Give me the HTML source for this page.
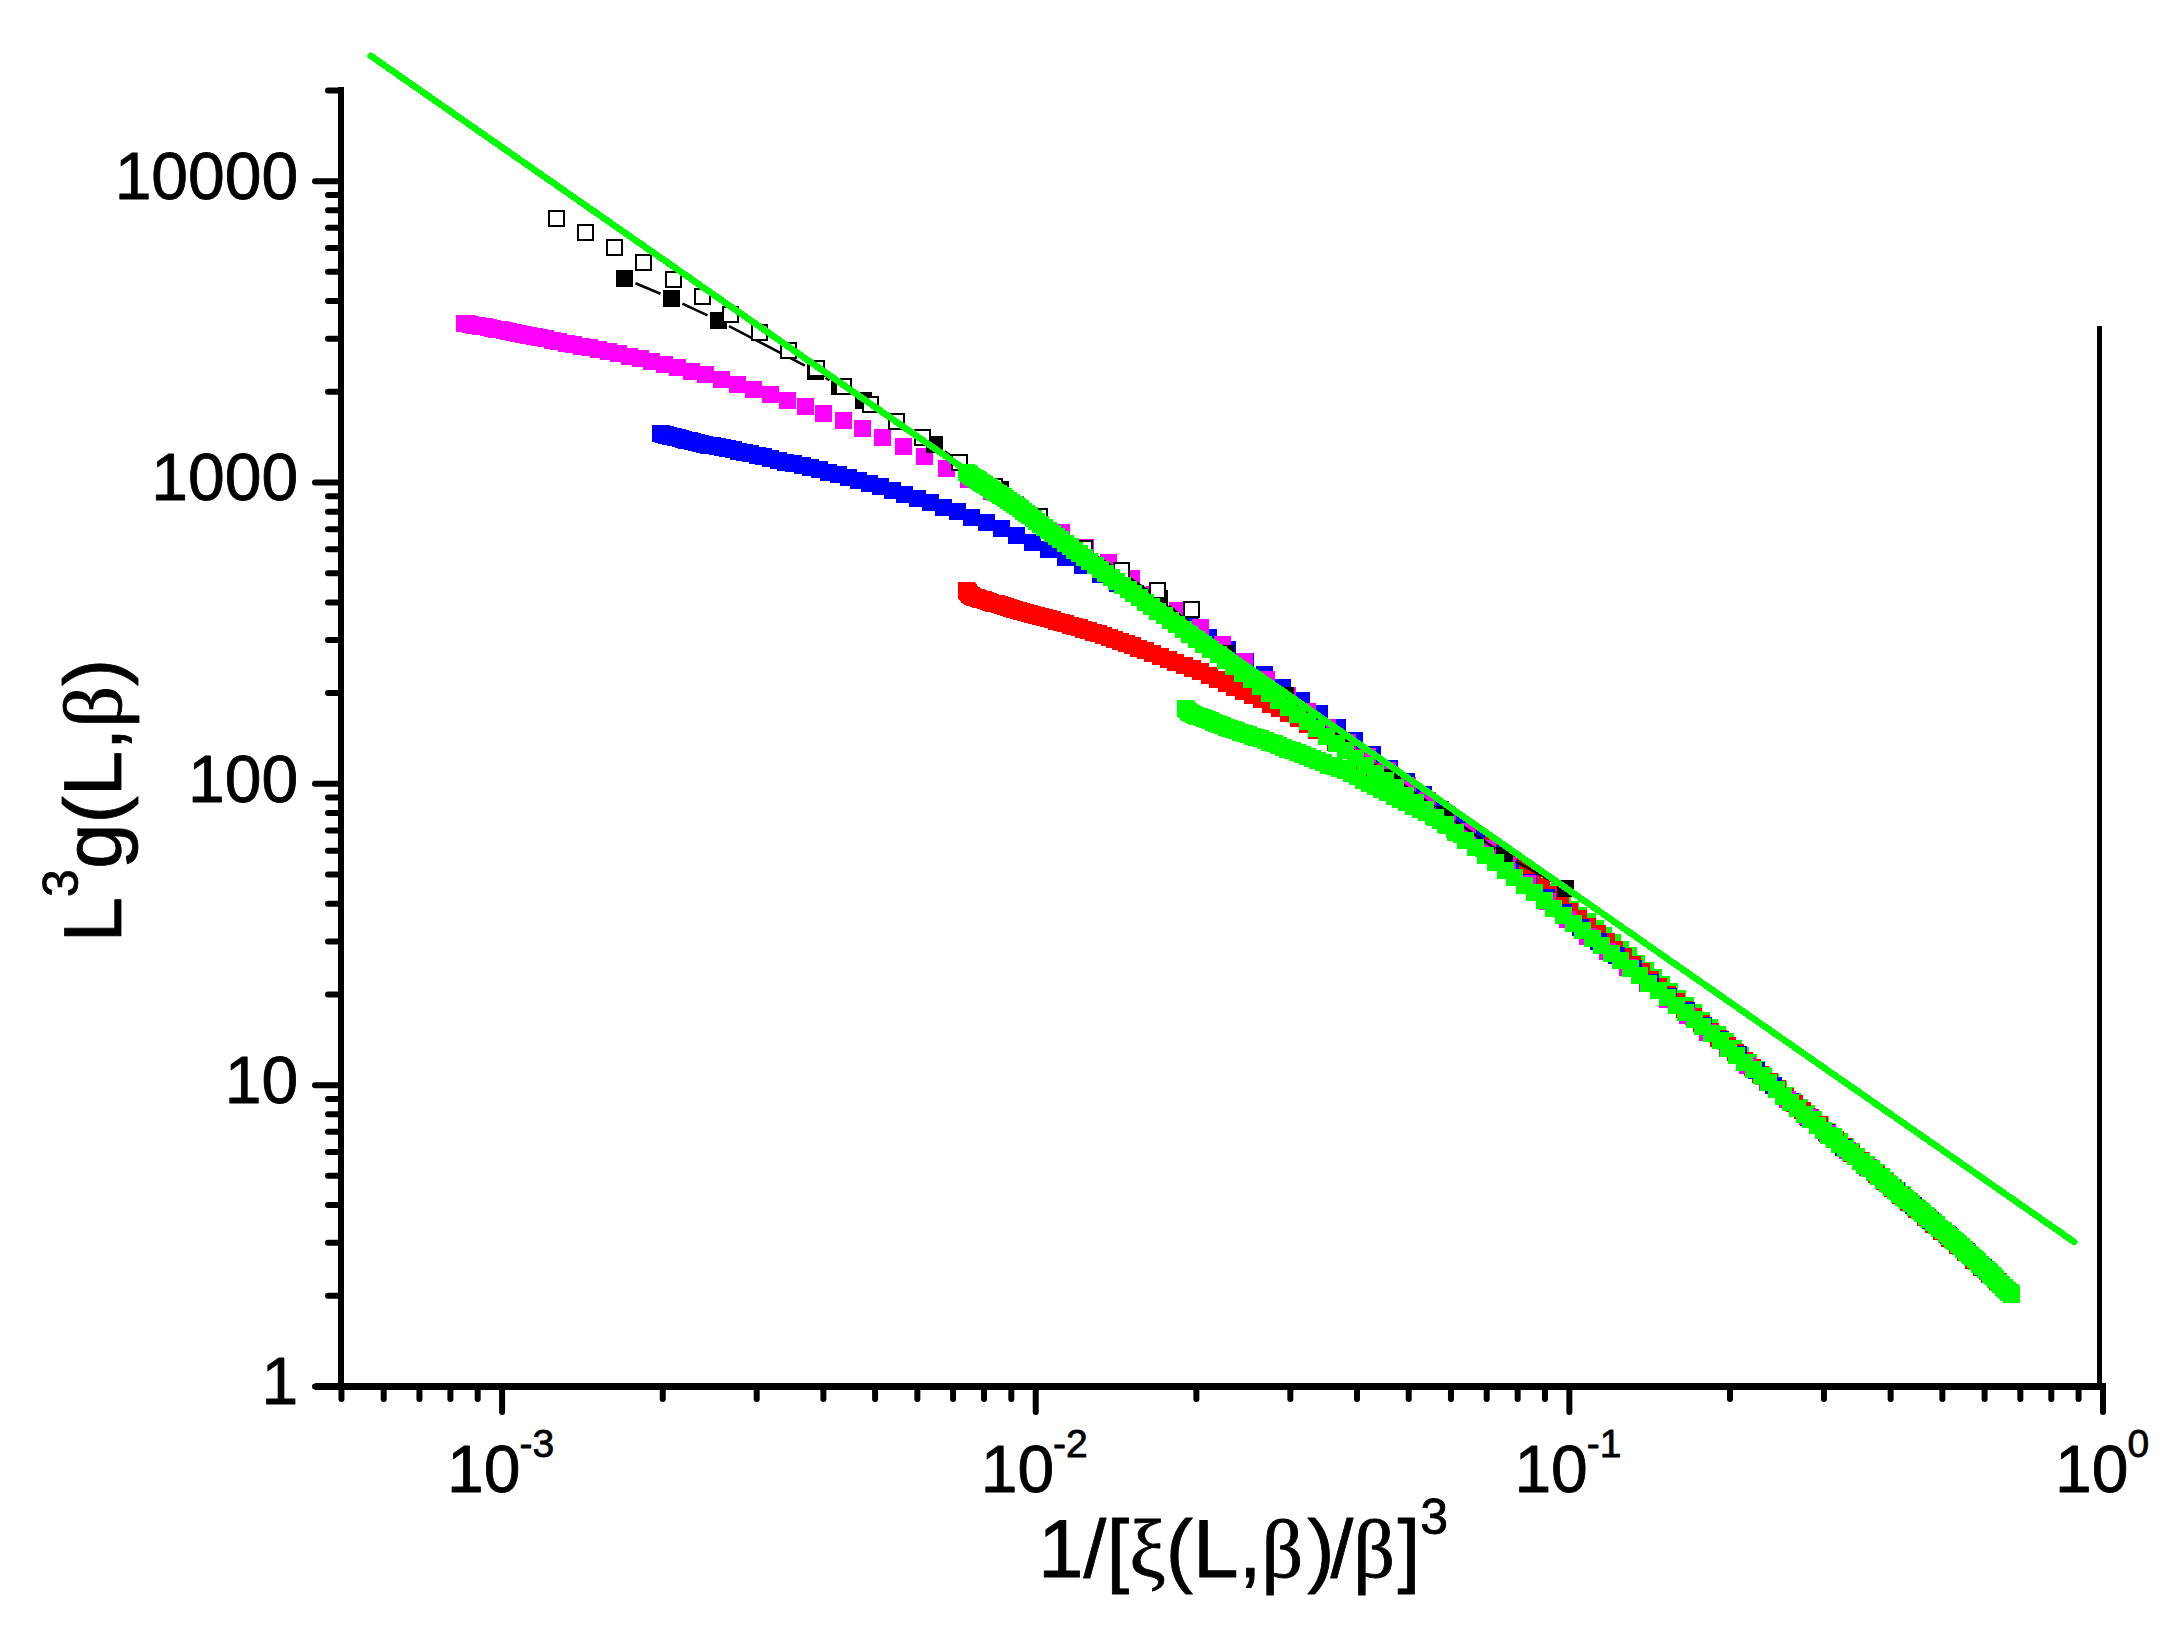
<!DOCTYPE html>
<html><head><meta charset="utf-8"><title>L^3 g(L,beta) scaling plot</title>
<style>html,body{margin:0;padding:0;background:#fff}svg{display:block}</style>
</head><body>
<svg width="2180" height="1630" viewBox="0 0 2180 1630">
<rect width="2180" height="1630" fill="#fff"/>
<g shape-rendering="crispEdges">
<path d="M1177 700h17v17h-17zM1178 701h17v17h-17zM1180 703h17v17h-17zM1181 704h17v17h-17zM1183 705h17v17h-17zM1185 706h17v17h-17zM1187 707h17v17h-17zM1189 708h17v17h-17zM1191 708h17v17h-17zM1194 709h17v17h-17zM1196 710h17v17h-17zM1199 711h17v17h-17zM1202 712h17v17h-17zM1205 714h17v17h-17zM1208 715h17v17h-17zM1211 716h17v17h-17zM1214 717h17v17h-17zM1218 719h17v17h-17zM1221 720h17v17h-17zM1225 721h17v17h-17zM1228 722h17v17h-17zM1232 724h17v17h-17zM1236 725h17v17h-17zM1240 726h17v17h-17zM1244 728h17v17h-17zM1248 729h17v17h-17zM1252 730h17v17h-17zM1257 732h17v17h-17zM1261 734h17v17h-17zM1266 735h17v17h-17zM1270 737h17v17h-17zM1275 739h17v17h-17zM1279 741h17v17h-17zM1284 742h17v17h-17zM1289 744h17v17h-17zM1294 746h17v17h-17zM1299 748h17v17h-17zM1304 750h17v17h-17zM1309 752h17v17h-17zM1315 754h17v17h-17zM1320 757h17v17h-17zM1326 758h17v17h-17zM1331 760h17v17h-17zM1337 762h17v17h-17zM1343 765h17v17h-17zM1349 768h17v17h-17zM1355 772h17v17h-17zM1361 775h17v17h-17zM1367 778h17v17h-17zM1373 781h17v17h-17zM1379 784h17v17h-17zM1386 788h17v17h-17zM1392 791h17v17h-17zM1398 794h17v17h-17zM1405 798h17v17h-17zM1412 801h17v17h-17zM1418 804h17v17h-17zM1425 808h17v17h-17zM1432 812h17v17h-17zM1439 817h17v17h-17zM1446 821h17v17h-17zM1453 826h17v17h-17zM1461 831h17v17h-17zM1468 835h17v17h-17zM1475 840h17v17h-17zM1483 845h17v17h-17zM1491 850h17v17h-17zM1498 856h17v17h-17zM1506 861h17v17h-17zM1514 867h17v17h-17zM1522 872h17v17h-17zM1530 878h17v17h-17zM1538 883h17v17h-17zM1546 889h17v17h-17zM1554 895h17v17h-17zM1562 901h17v17h-17zM1570 907h17v17h-17zM1579 913h17v17h-17zM1587 920h17v17h-17zM1595 927h17v17h-17zM1604 934h17v17h-17zM1612 941h17v17h-17zM1620 947h17v17h-17zM1628 955h17v17h-17zM1637 962h17v17h-17zM1645 969h17v17h-17zM1653 976h17v17h-17zM1661 983h17v17h-17zM1669 990h17v17h-17zM1677 997h17v17h-17zM1685 1004h17v17h-17zM1693 1012h17v17h-17zM1701 1019h17v17h-17zM1709 1026h17v17h-17zM1717 1033h17v17h-17zM1725 1040h17v17h-17zM1732 1047h17v17h-17zM1740 1054h17v17h-17zM1748 1061h17v17h-17zM1755 1068h17v17h-17zM1762 1074h17v17h-17zM1770 1081h17v17h-17zM1777 1087h17v17h-17zM1784 1093h17v17h-17zM1791 1099h17v17h-17zM1798 1105h17v17h-17zM1805 1111h17v17h-17zM1812 1117h17v17h-17zM1818 1123h17v17h-17zM1825 1128h17v17h-17zM1831 1133h17v17h-17zM1837 1138h17v17h-17zM1843 1143h17v17h-17zM1848 1148h17v17h-17zM1853 1152h17v17h-17zM1858 1156h17v17h-17zM1863 1160h17v17h-17zM1868 1164h17v17h-17zM1873 1168h17v17h-17zM1877 1172h17v17h-17zM1881 1176h17v17h-17zM1885 1179h17v17h-17zM1889 1183h17v17h-17zM1894 1186h17v17h-17zM1897 1190h17v17h-17zM1901 1193h17v17h-17zM1905 1197h17v17h-17zM1909 1200h17v17h-17zM1913 1203h17v17h-17zM1917 1207h17v17h-17zM1920 1210h17v17h-17zM1924 1213h17v17h-17zM1928 1216h17v17h-17zM1931 1220h17v17h-17zM1935 1223h17v17h-17zM1938 1226h17v17h-17zM1942 1229h17v17h-17zM1945 1232h17v17h-17zM1949 1235h17v17h-17zM1952 1238h17v17h-17zM1955 1241h17v17h-17zM1959 1244h17v17h-17zM1962 1247h17v17h-17zM1965 1250h17v17h-17zM1968 1253h17v17h-17zM1971 1256h17v17h-17zM1975 1259h17v17h-17zM1978 1261h17v17h-17zM1981 1264h17v17h-17zM1984 1267h17v17h-17zM1987 1270h17v17h-17zM1990 1273h17v17h-17zM1993 1276h17v17h-17zM1996 1279h17v17h-17zM1999 1282h17v17h-17zM2002 1284h17v17h-17z" fill="#00ff00"/>
<path d="M958 582h17v17h-17zM959 583h17v17h-17zM960 584h17v17h-17zM961 586h17v17h-17zM963 587h17v17h-17zM964 588h17v17h-17zM966 589h17v17h-17zM968 589h17v17h-17zM970 590h17v17h-17zM972 591h17v17h-17zM975 591h17v17h-17zM977 592h17v17h-17zM980 593h17v17h-17zM982 594h17v17h-17zM985 595h17v17h-17zM988 595h17v17h-17zM991 596h17v17h-17zM994 597h17v17h-17zM997 598h17v17h-17zM1000 599h17v17h-17zM1003 600h17v17h-17zM1006 601h17v17h-17zM1010 602h17v17h-17zM1013 603h17v17h-17zM1017 604h17v17h-17zM1021 605h17v17h-17zM1024 606h17v17h-17zM1028 607h17v17h-17zM1032 608h17v17h-17zM1036 609h17v17h-17zM1040 610h17v17h-17zM1044 611h17v17h-17zM1048 613h17v17h-17zM1053 614h17v17h-17zM1057 615h17v17h-17zM1062 617h17v17h-17zM1066 618h17v17h-17zM1071 619h17v17h-17zM1075 621h17v17h-17zM1080 622h17v17h-17zM1085 624h17v17h-17zM1090 625h17v17h-17zM1095 627h17v17h-17zM1101 629h17v17h-17zM1106 631h17v17h-17zM1112 633h17v17h-17zM1118 635h17v17h-17zM1124 637h17v17h-17zM1130 640h17v17h-17zM1137 642h17v17h-17zM1144 645h17v17h-17zM1152 648h17v17h-17zM1160 651h17v17h-17zM1167 654h17v17h-17zM1176 657h17v17h-17zM1184 660h17v17h-17zM1192 663h17v17h-17zM1201 667h17v17h-17zM1209 671h17v17h-17zM1218 675h17v17h-17zM1226 679h17v17h-17zM1235 683h17v17h-17zM1244 687h17v17h-17zM1253 691h17v17h-17zM1262 696h17v17h-17zM1271 700h17v17h-17zM1280 705h17v17h-17zM1290 710h17v17h-17zM1299 716h17v17h-17zM1308 722h17v17h-17zM1318 727h17v17h-17zM1327 734h17v17h-17zM1337 740h17v17h-17zM1347 746h17v17h-17zM1356 752h17v17h-17zM1366 759h17v17h-17zM1376 765h17v17h-17zM1386 772h17v17h-17zM1396 779h17v17h-17zM1406 785h17v17h-17zM1416 792h17v17h-17zM1426 799h17v17h-17zM1436 806h17v17h-17zM1446 813h17v17h-17zM1456 820h17v17h-17zM1466 827h17v17h-17zM1475 834h17v17h-17zM1485 840h17v17h-17zM1495 847h17v17h-17zM1505 855h17v17h-17zM1514 862h17v17h-17zM1524 870h17v17h-17zM1533 878h17v17h-17zM1543 886h17v17h-17zM1552 895h17v17h-17zM1561 903h17v17h-17zM1570 910h17v17h-17zM1579 918h17v17h-17zM1589 925h17v17h-17zM1598 933h17v17h-17zM1606 941h17v17h-17zM1615 948h17v17h-17zM1624 956h17v17h-17zM1633 963h17v17h-17zM1642 971h17v17h-17zM1650 978h17v17h-17zM1659 986h17v17h-17zM1668 993h17v17h-17zM1676 1001h17v17h-17zM1685 1008h17v17h-17zM1693 1015h17v17h-17zM1702 1023h17v17h-17zM1710 1030h17v17h-17zM1719 1037h17v17h-17zM1727 1044h17v17h-17zM1736 1052h17v17h-17zM1744 1059h17v17h-17zM1752 1066h17v17h-17zM1761 1073h17v17h-17zM1769 1080h17v17h-17zM1777 1088h17v17h-17zM1786 1095h17v17h-17zM1794 1102h17v17h-17zM1802 1109h17v17h-17zM1811 1116h17v17h-17zM1819 1124h17v17h-17zM1827 1131h17v17h-17zM1835 1138h17v17h-17zM1843 1145h17v17h-17zM1852 1152h17v17h-17zM1860 1159h17v17h-17zM1868 1166h17v17h-17zM1876 1173h17v17h-17zM1884 1180h17v17h-17zM1892 1187h17v17h-17zM1900 1194h17v17h-17zM1908 1201h17v17h-17zM1917 1209h17v17h-17zM1925 1216h17v17h-17zM1933 1223h17v17h-17zM1941 1230h17v17h-17zM1949 1237h17v17h-17zM1957 1244h17v17h-17zM1965 1252h17v17h-17zM1973 1259h17v17h-17zM1981 1266h17v17h-17zM1989 1273h17v17h-17zM1997 1281h17v17h-17z" fill="#ff0000"/>
<path d="M652 425h17v17h-17zM653 425h17v17h-17zM655 426h17v17h-17zM657 426h17v17h-17zM658 427h17v17h-17zM660 427h17v17h-17zM662 428h17v17h-17zM665 428h17v17h-17zM667 429h17v17h-17zM669 429h17v17h-17zM672 430h17v17h-17zM675 431h17v17h-17zM678 432h17v17h-17zM681 432h17v17h-17zM684 433h17v17h-17zM688 434h17v17h-17zM692 435h17v17h-17zM696 436h17v17h-17zM700 437h17v17h-17zM704 437h17v17h-17zM709 438h17v17h-17zM714 439h17v17h-17zM719 440h17v17h-17zM725 441h17v17h-17zM730 443h17v17h-17zM736 444h17v17h-17zM742 445h17v17h-17zM749 447h17v17h-17zM755 448h17v17h-17zM762 450h17v17h-17zM770 452h17v17h-17zM777 454h17v17h-17zM785 455h17v17h-17zM794 457h17v17h-17zM802 459h17v17h-17zM811 461h17v17h-17zM820 464h17v17h-17zM830 466h17v17h-17zM840 469h17v17h-17zM850 472h17v17h-17zM861 475h17v17h-17zM872 478h17v17h-17zM884 482h17v17h-17zM896 486h17v17h-17zM909 490h17v17h-17zM922 494h17v17h-17zM935 499h17v17h-17zM949 503h17v17h-17zM963 509h17v17h-17zM978 514h17v17h-17zM993 520h17v17h-17zM1008 527h17v17h-17zM1024 534h17v17h-17zM1040 541h17v17h-17zM1057 549h17v17h-17zM1074 557h17v17h-17zM1092 566h17v17h-17zM1109 575h17v17h-17zM1127 585h17v17h-17zM1145 596h17v17h-17zM1164 606h17v17h-17zM1182 618h17v17h-17zM1200 629h17v17h-17zM1219 641h17v17h-17zM1237 653h17v17h-17zM1256 666h17v17h-17zM1274 679h17v17h-17zM1293 692h17v17h-17zM1311 705h17v17h-17zM1329 719h17v17h-17zM1346 732h17v17h-17zM1364 746h17v17h-17zM1381 760h17v17h-17zM1398 773h17v17h-17zM1415 786h17v17h-17zM1432 801h17v17h-17zM1450 815h17v17h-17zM1468 830h17v17h-17zM1485 845h17v17h-17zM1502 860h17v17h-17zM1520 874h17v17h-17zM1538 889h17v17h-17zM1555 904h17v17h-17zM1572 919h17v17h-17zM1590 933h17v17h-17zM1608 947h17v17h-17zM1625 960h17v17h-17zM1642 974h17v17h-17zM1660 988h17v17h-17zM1678 1002h17v17h-17zM1695 1017h17v17h-17zM1712 1031h17v17h-17zM1730 1046h17v17h-17zM1748 1062h17v17h-17zM1765 1077h17v17h-17zM1782 1093h17v17h-17zM1800 1109h17v17h-17zM1818 1124h17v17h-17zM1835 1139h17v17h-17zM1852 1153h17v17h-17zM1870 1168h17v17h-17zM1888 1182h17v17h-17zM1905 1197h17v17h-17zM1922 1212h17v17h-17zM1940 1227h17v17h-17zM1958 1243h17v17h-17zM1975 1259h17v17h-17z" fill="#0000ff"/>
<path d="M456 315h17v17h-17zM459 315h17v17h-17zM462 316h17v17h-17zM466 317h17v17h-17zM469 317h17v17h-17zM472 318h17v17h-17zM476 318h17v17h-17zM480 319h17v17h-17zM484 320h17v17h-17zM488 321h17v17h-17zM492 321h17v17h-17zM496 322h17v17h-17zM500 323h17v17h-17zM505 324h17v17h-17zM510 325h17v17h-17zM515 326h17v17h-17zM520 327h17v17h-17zM526 328h17v17h-17zM531 329h17v17h-17zM537 330h17v17h-17zM544 332h17v17h-17zM550 333h17v17h-17zM558 335h17v17h-17zM565 336h17v17h-17zM573 338h17v17h-17zM581 339h17v17h-17zM590 341h17v17h-17zM600 343h17v17h-17zM610 345h17v17h-17zM621 348h17v17h-17zM632 350h17v17h-17zM643 353h17v17h-17zM656 356h17v17h-17zM669 359h17v17h-17zM683 363h17v17h-17zM697 366h17v17h-17zM713 371h17v17h-17zM729 376h17v17h-17zM745 381h17v17h-17zM762 386h17v17h-17zM779 392h17v17h-17zM797 398h17v17h-17zM815 405h17v17h-17zM835 412h17v17h-17zM854 420h17v17h-17zM874 429h17v17h-17zM895 438h17v17h-17zM916 448h17v17h-17zM938 460h17v17h-17zM960 471h17v17h-17zM983 483h17v17h-17zM1007 496h17v17h-17zM1030 510h17v17h-17zM1053 524h17v17h-17zM1077 539h17v17h-17zM1100 554h17v17h-17zM1123 570h17v17h-17zM1146 586h17v17h-17zM1169 602h17v17h-17zM1192 619h17v17h-17zM1214 636h17v17h-17zM1236 653h17v17h-17zM1258 671h17v17h-17zM1279 687h17v17h-17zM1299 703h17v17h-17zM1319 719h17v17h-17zM1339 734h17v17h-17zM1359 748h17v17h-17zM1379 762h17v17h-17zM1399 777h17v17h-17zM1419 792h17v17h-17zM1439 807h17v17h-17zM1459 823h17v17h-17zM1479 840h17v17h-17zM1499 857h17v17h-17zM1519 875h17v17h-17zM1539 893h17v17h-17zM1559 911h17v17h-17zM1579 928h17v17h-17zM1599 943h17v17h-17zM1619 959h17v17h-17zM1639 975h17v17h-17zM1659 991h17v17h-17zM1679 1007h17v17h-17zM1699 1024h17v17h-17zM1719 1040h17v17h-17zM1739 1057h17v17h-17zM1759 1074h17v17h-17zM1779 1091h17v17h-17zM1799 1108h17v17h-17zM1819 1125h17v17h-17zM1839 1142h17v17h-17zM1859 1159h17v17h-17zM1879 1175h17v17h-17zM1899 1192h17v17h-17zM1919 1209h17v17h-17zM1939 1226h17v17h-17zM1959 1244h17v17h-17zM1979 1263h17v17h-17z" fill="#ff00ff"/>
<path d="M635.5 283.2L660.5 293.8M682.4 303.6L707.5 315.4M729.0 326.1L804.9 365.7M825.6 377.7L829.5 380.1M850.0 392.6L853.0 394.3M873.6 406.7L924.3 438.2M944.4 451.3L990.6 482.8M1010.3 496.5L1075.0 541.7M1094.8 555.2L1149.5 591.4M1168.7 605.8L1216.5 645.9M1235.5 660.5L1275.6 688.4M1294.6 702.9L1330.8 733.1M1349.8 747.6L1383.2 770.8M1402.8 784.5L1435.5 807.2M1455.1 820.9L1495.2 848.8M1515.6 861.3L1554.8 882.6" stroke="#000" stroke-width="2.6" fill="none" shape-rendering="auto"/>
<path d="M616 270h17v17h-17zM663 290h17v17h-17zM710 312h17v17h-17zM807 363h17v17h-17zM831 378h17v17h-17zM855 392h17v17h-17zM926 436h17v17h-17zM992 481h17v17h-17zM1076 540h17v17h-17zM1151 590h17v17h-17zM1217 645h17v17h-17zM1277 687h17v17h-17zM1332 732h17v17h-17zM1384 769h17v17h-17zM1437 806h17v17h-17zM1496 847h17v17h-17zM1557 880h17v17h-17z" fill="#000"/>
<g fill="#fff" stroke="#000" stroke-width="2"><rect x="549" y="211" width="15" height="15"/><rect x="578" y="225" width="15" height="15"/><rect x="607" y="240" width="15" height="15"/><rect x="636" y="255" width="15" height="15"/><rect x="666" y="272" width="15" height="15"/><rect x="695" y="289" width="15" height="15"/><rect x="723" y="307" width="15" height="15"/><rect x="752" y="325" width="15" height="15"/><rect x="781" y="343" width="15" height="15"/><rect x="809" y="361" width="15" height="15"/><rect x="836" y="379" width="15" height="15"/><rect x="863" y="397" width="15" height="15"/><rect x="889" y="414" width="15" height="15"/><rect x="915" y="430" width="15" height="15"/><rect x="952" y="455" width="15" height="15"/><rect x="987" y="479" width="15" height="15"/><rect x="1032" y="509" width="15" height="15"/><rect x="1077" y="541" width="15" height="15"/><rect x="1114" y="563" width="15" height="15"/><rect x="1150" y="583" width="15" height="15"/><rect x="1184" y="602" width="15" height="15"/></g>
<path d="M958 464h17v17h-17zM960 465h17v17h-17zM961 466h17v17h-17zM963 468h17v17h-17zM965 469h17v17h-17zM967 470h17v17h-17zM969 471h17v17h-17zM970 472h17v17h-17zM972 474h17v17h-17zM974 475h17v17h-17zM976 476h17v17h-17zM979 478h17v17h-17zM981 479h17v17h-17zM983 481h17v17h-17zM985 482h17v17h-17zM987 484h17v17h-17zM990 485h17v17h-17zM992 487h17v17h-17zM995 488h17v17h-17zM997 490h17v17h-17zM1000 492h17v17h-17zM1003 494h17v17h-17zM1006 496h17v17h-17zM1009 498h17v17h-17zM1012 500h17v17h-17zM1015 503h17v17h-17zM1018 505h17v17h-17zM1021 507h17v17h-17zM1025 510h17v17h-17zM1028 513h17v17h-17zM1032 516h17v17h-17zM1036 519h17v17h-17zM1040 522h17v17h-17zM1044 525h17v17h-17zM1048 528h17v17h-17zM1052 531h17v17h-17zM1057 535h17v17h-17zM1062 538h17v17h-17zM1066 542h17v17h-17zM1071 545h17v17h-17zM1076 549h17v17h-17zM1081 553h17v17h-17zM1087 557h17v17h-17zM1092 561h17v17h-17zM1097 565h17v17h-17zM1103 569h17v17h-17zM1108 573h17v17h-17zM1114 577h17v17h-17zM1120 581h17v17h-17zM1125 585h17v17h-17zM1131 589h17v17h-17zM1137 594h17v17h-17zM1143 598h17v17h-17zM1149 603h17v17h-17zM1156 607h17v17h-17zM1162 612h17v17h-17zM1168 616h17v17h-17zM1175 621h17v17h-17zM1181 626h17v17h-17zM1188 631h17v17h-17zM1195 636h17v17h-17zM1202 641h17v17h-17zM1210 646h17v17h-17zM1217 652h17v17h-17zM1225 658h17v17h-17zM1234 665h17v17h-17zM1243 671h17v17h-17zM1252 678h17v17h-17zM1261 685h17v17h-17zM1270 692h17v17h-17zM1280 699h17v17h-17zM1289 706h17v17h-17zM1299 713h17v17h-17zM1308 720h17v17h-17zM1318 728h17v17h-17zM1328 735h17v17h-17zM1337 742h17v17h-17zM1347 750h17v17h-17zM1357 757h17v17h-17zM1367 765h17v17h-17zM1377 772h17v17h-17zM1387 779h17v17h-17zM1397 787h17v17h-17zM1407 794h17v17h-17zM1417 801h17v17h-17zM1427 809h17v17h-17zM1437 816h17v17h-17zM1447 824h17v17h-17zM1457 832h17v17h-17zM1467 839h17v17h-17zM1477 847h17v17h-17zM1487 854h17v17h-17zM1497 862h17v17h-17zM1506 869h17v17h-17zM1516 877h17v17h-17zM1526 884h17v17h-17zM1536 892h17v17h-17zM1545 900h17v17h-17zM1555 907h17v17h-17zM1565 915h17v17h-17zM1574 922h17v17h-17zM1584 930h17v17h-17zM1593 937h17v17h-17zM1603 945h17v17h-17zM1612 952h17v17h-17zM1622 960h17v17h-17zM1631 967h17v17h-17zM1640 975h17v17h-17zM1650 982h17v17h-17zM1659 989h17v17h-17zM1668 997h17v17h-17zM1677 1004h17v17h-17zM1686 1011h17v17h-17zM1694 1018h17v17h-17zM1703 1025h17v17h-17zM1712 1032h17v17h-17zM1720 1040h17v17h-17zM1728 1047h17v17h-17zM1736 1054h17v17h-17zM1745 1061h17v17h-17zM1753 1067h17v17h-17zM1760 1074h17v17h-17zM1768 1081h17v17h-17zM1775 1088h17v17h-17zM1782 1094h17v17h-17zM1789 1100h17v17h-17zM1796 1106h17v17h-17zM1802 1111h17v17h-17zM1809 1117h17v17h-17zM1815 1122h17v17h-17zM1820 1127h17v17h-17zM1826 1131h17v17h-17zM1831 1136h17v17h-17zM1837 1140h17v17h-17zM1842 1144h17v17h-17zM1847 1148h17v17h-17zM1852 1153h17v17h-17zM1856 1157h17v17h-17zM1861 1160h17v17h-17zM1866 1164h17v17h-17zM1870 1168h17v17h-17zM1875 1172h17v17h-17zM1879 1175h17v17h-17zM1883 1179h17v17h-17zM1887 1182h17v17h-17zM1891 1186h17v17h-17zM1895 1189h17v17h-17zM1899 1192h17v17h-17zM1903 1195h17v17h-17zM1907 1199h17v17h-17zM1911 1202h17v17h-17zM1914 1205h17v17h-17zM1918 1208h17v17h-17zM1921 1211h17v17h-17zM1925 1214h17v17h-17zM1928 1217h17v17h-17zM1931 1220h17v17h-17zM1935 1222h17v17h-17zM1938 1225h17v17h-17zM1941 1228h17v17h-17zM1944 1231h17v17h-17zM1947 1233h17v17h-17zM1950 1236h17v17h-17zM1953 1238h17v17h-17zM1956 1241h17v17h-17zM1958 1244h17v17h-17zM1961 1246h17v17h-17zM1964 1249h17v17h-17zM1967 1251h17v17h-17zM1969 1253h17v17h-17zM1972 1256h17v17h-17zM1974 1258h17v17h-17zM1977 1261h17v17h-17zM1980 1263h17v17h-17zM1982 1266h17v17h-17zM1985 1268h17v17h-17zM1987 1271h17v17h-17zM1990 1274h17v17h-17zM1992 1276h17v17h-17zM1995 1279h17v17h-17zM1997 1281h17v17h-17zM2000 1284h17v17h-17zM2003 1286h17v17h-17z" fill="#00ff00"/>
<path d="M370.8 55.9L2074.1 1241.9" stroke="#00ff00" stroke-width="6.6" stroke-linecap="round" fill="none"/>
<g fill="#000"><rect x="338" y="87" width="6" height="1303"/><rect x="315" y="1383" width="1791" height="7"/><rect x="2097" y="326" width="5" height="1060"/></g>
<path d="M341 1386.50H315M341 1295.79H328M341 1242.73H328M341 1205.08H328M341 1175.87H328M341 1152.01H328M341 1131.84H328M341 1114.37H328M341 1098.95H328M341 1085.16H315M341 994.45H328M341 941.39H328M341 903.74H328M341 874.54H328M341 850.68H328M341 830.50H328M341 813.03H328M341 797.61H328M341 783.83H315M341 693.11H328M341 640.05H328M341 602.40H328M341 573.20H328M341 549.34H328M341 529.17H328M341 511.69H328M341 496.28H328M341 482.49H315M341 391.78H328M341 338.71H328M341 301.06H328M341 271.86H328M341 248.00H328M341 227.83H328M341 210.35H328M341 194.94H328M341 181.15H315M341 90.44H328M341.46 1386V1399M383.71 1386V1399M419.44 1386V1399M450.39 1386V1399M477.68 1386V1399M502.10 1386V1412M662.74 1386V1399M756.71 1386V1399M823.38 1386V1399M875.09 1386V1399M917.35 1386V1399M953.07 1386V1399M984.02 1386V1399M1011.32 1386V1399M1035.73 1386V1412M1196.37 1386V1399M1290.34 1386V1399M1357.01 1386V1399M1408.73 1386V1399M1450.98 1386V1399M1486.71 1386V1399M1517.65 1386V1399M1544.95 1386V1399M1569.37 1386V1412M1730.01 1386V1399M1823.97 1386V1399M1890.65 1386V1399M1942.36 1386V1399M1984.61 1386V1399M2020.34 1386V1399M2051.29 1386V1399M2078.58 1386V1399M2103.00 1386V1412" stroke="#000" stroke-width="6" stroke-linecap="round" fill="none" shape-rendering="auto"/>
</g>
<g fill="#000" stroke="#000" stroke-width="0.8" stroke-linejoin="round"><text x="298.2" y="199.0" text-anchor="end" font-size="66" font-family="Liberation Sans, Arial, sans-serif">10000</text><text x="298.2" y="500.3" text-anchor="end" font-size="66" font-family="Liberation Sans, Arial, sans-serif">1000</text><text x="298.2" y="801.6" text-anchor="end" font-size="66" font-family="Liberation Sans, Arial, sans-serif">100</text><text x="298.2" y="1103.0" text-anchor="end" font-size="66" font-family="Liberation Sans, Arial, sans-serif">10</text><text x="298.2" y="1404.3" text-anchor="end" font-size="66" font-family="Liberation Sans, Arial, sans-serif">1</text><text x="447.1" y="1492" font-size="66" font-family="Liberation Sans, Arial, sans-serif">10<tspan dy="-35" dx="-1" font-size="39">-3</tspan></text><text x="980.7" y="1492" font-size="66" font-family="Liberation Sans, Arial, sans-serif">10<tspan dy="-35" dx="-1" font-size="39">-2</tspan></text><text x="1514.4" y="1492" font-size="66" font-family="Liberation Sans, Arial, sans-serif">10<tspan dy="-35" dx="-1" font-size="39">-1</tspan></text><text x="2055.0" y="1492" font-size="66" font-family="Liberation Sans, Arial, sans-serif">10<tspan dy="-35" dx="-1" font-size="39">0</tspan></text><text x="1038" y="1577" font-size="82" font-family="Liberation Sans, Arial, sans-serif">1/[<tspan font-family="Liberation Serif, Times New Roman, serif">ξ</tspan>(L,<tspan font-family="Liberation Serif, Times New Roman, serif">β</tspan><tspan dx="4">)</tspan><tspan dx="-4">/</tspan><tspan font-family="Liberation Serif, Times New Roman, serif">β</tspan><tspan dx="2.5">]</tspan><tspan dy="-43.5" font-size="50">3</tspan></text><text transform="translate(120.8,942.5) rotate(-90)" font-size="82" font-family="Liberation Sans, Arial, sans-serif">L<tspan dy="-43" font-size="50">3</tspan><tspan dy="43">g(L,</tspan><tspan font-family="Liberation Serif, Times New Roman, serif">β</tspan>)</text></g>
</svg>
</body></html>
